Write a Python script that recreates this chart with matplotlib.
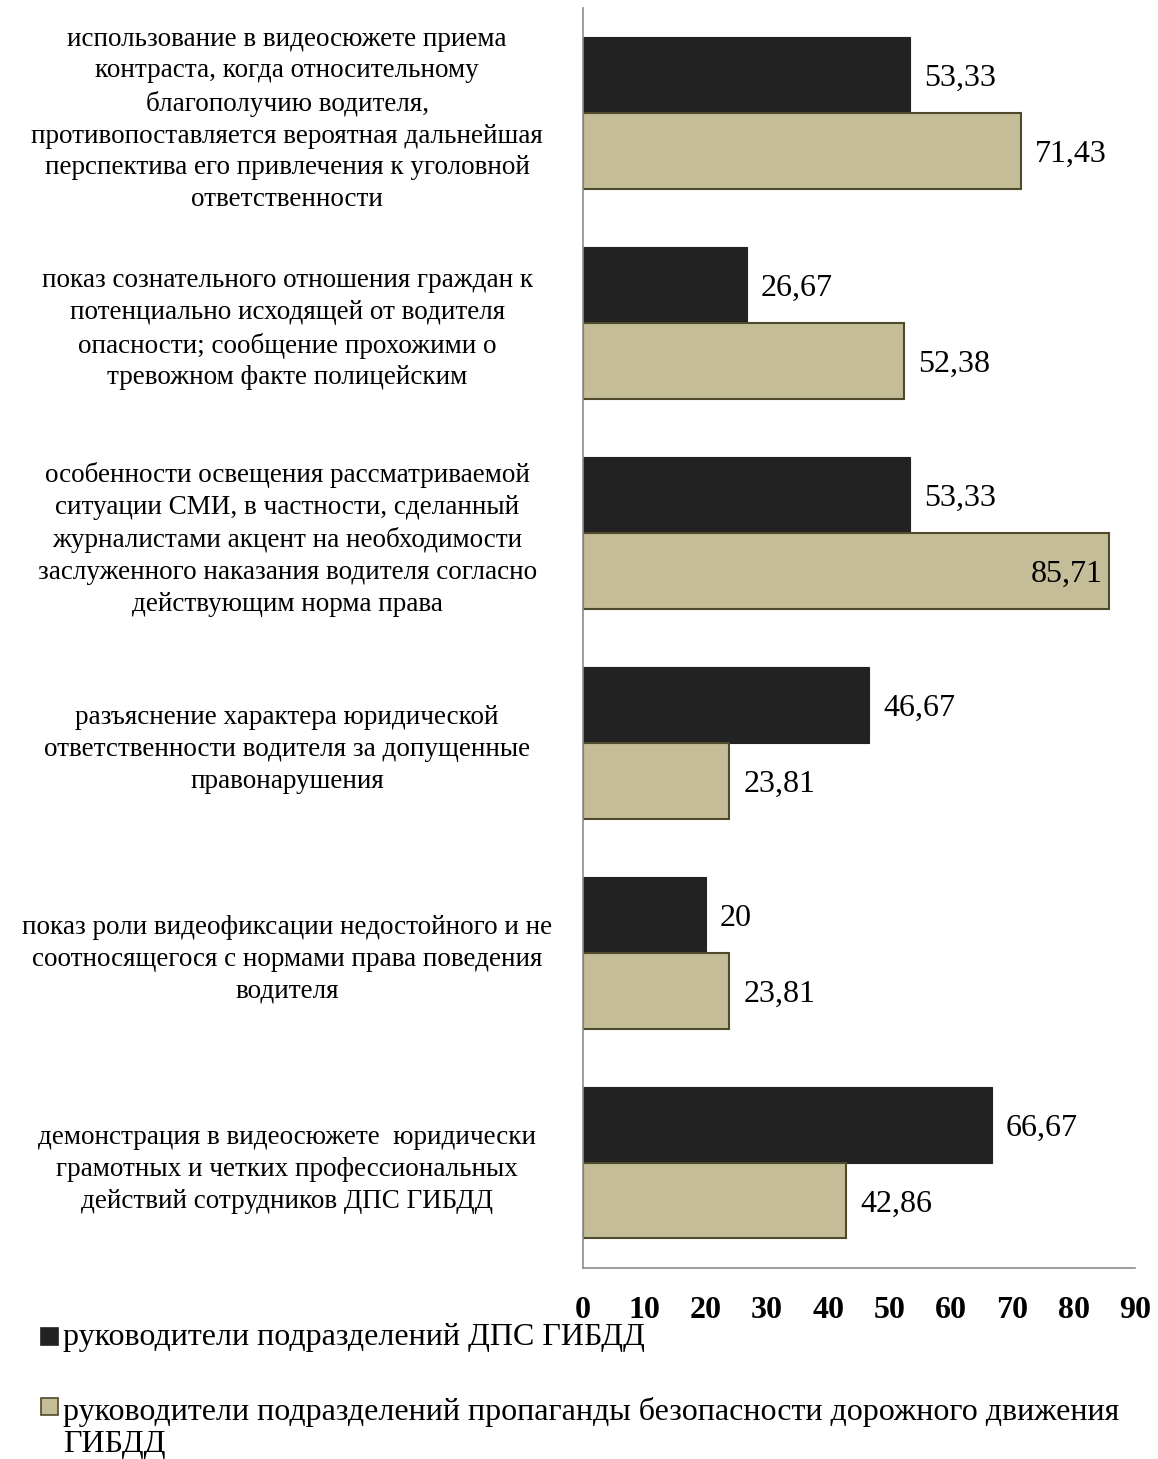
import numpy as np
import matplotlib.pyplot as plt
from matplotlib.patches import Rectangle

categories = [
    "использование в видеосюжете приема\nконтраста, когда относительному\nблагополучию водителя,\nпротивопоставляется вероятная дальнейшая\nперспектива его привлечения к уголовной\nответственности",
    "показ сознательного отношения граждан к\nпотенциально исходящей от водителя\nопасности; сообщение прохожими о\nтревожном факте полицейским",
    "особенности освещения рассматриваемой\nситуации СМИ, в частности, сделанный\nжурналистами акцент на необходимости\nзаслуженного наказания водителя согласно\nдействующим норма права",
    "разъяснение характера юридической\nответственности водителя за допущенные\nправонарушения",
    "показ роли видеофиксации недостойного и не\nсоотносящегося с нормами права поведения\nводителя",
    "демонстрация в видеосюжете  юридически\nграмотных и четких профессиональных\nдействий сотрудников ДПС ГИБДД",
]
dps = [53.33, 26.67, 53.33, 46.67, 20, 66.67]
prop = [71.43, 52.38, 85.71, 23.81, 23.81, 42.86]
series_names = [
    "руководители подразделений ДПС ГИБДД",
    "руководители подразделений пропаганды безопасности дорожного движения\nГИБДД",
]
xticks = [0, 10, 20, 30, 40, 50, 60, 70, 80, 90]

plt.rcParams['font.family'] = ['Liberation Serif', 'DejaVu Serif']

dark = '#222222'
tan = '#c4bd97'
tan_edge = '#4f4a2c'


def fmt(v):
    s = ('%.2f' % v).rstrip('0').rstrip('.')
    return s.replace('.', ',')


fig = plt.figure(figsize=(11.58, 14.59), dpi=100)
ax = fig.add_axes([0.5035, 0.131, 0.4765, 0.8635])

y = np.arange(len(categories))
h = 0.36
ax.barh(y - h / 2, dps, height=h, color=dark, edgecolor=dark, linewidth=0.8)
ax.barh(y + h / 2, prop, height=h, color=tan, edgecolor=tan_edge, linewidth=1.5)

for i in range(len(categories)):
    ax.text(dps[i] + 2.3, y[i] - h / 2, fmt(dps[i]), va='center_baseline', ha='left', fontsize=23)
    if prop[i] > 80:
        ax.text(prop[i] - 1.0, y[i] + h / 2, fmt(prop[i]), va='center_baseline', ha='right', fontsize=23)
    else:
        ax.text(prop[i] + 2.3, y[i] + h / 2, fmt(prop[i]), va='center_baseline', ha='left', fontsize=23)

ax.set_ylim(len(categories) - 0.5, -0.5)
ax.set_xlim(0, 90)
ax.set_yticks(y)
ax.set_yticklabels(categories, fontsize=19.5, ha='center', linespacing=1.36)
ax.tick_params(axis='y', length=0, pad=213)
ax.set_xticks(xticks)
ax.set_xticklabels([str(t) for t in xticks], fontsize=23, fontweight='bold')
ax.tick_params(axis='x', length=0, pad=20)

for s in ['top', 'right']:
    ax.spines[s].set_visible(False)
for s in ['left', 'bottom']:
    ax.spines[s].set_color('#8c8c8c')
    ax.spines[s].set_linewidth(1.2)

# legend: manual, text baseline is that of the last line
colors = [dark, tan]
edges = [dark, tan_edge]
square_tops = [1328, 1398]
last_baselines = [1345, 1452]
for name, c, e, sq, bl in zip(series_names, colors, edges, square_tops, last_baselines):
    fig.patches.append(Rectangle((41 / 1158, 1 - (sq + 17) / 1459), 17 / 1158, 17 / 1459,
                                 transform=fig.transFigure, facecolor=c, edgecolor=e,
                                 linewidth=1.2))
    fig.text(63 / 1158, 1 - bl / 1459, name, fontsize=23, ha='left', va='baseline',
             linespacing=1.14)

fig.savefig('out.png', dpi=100)
